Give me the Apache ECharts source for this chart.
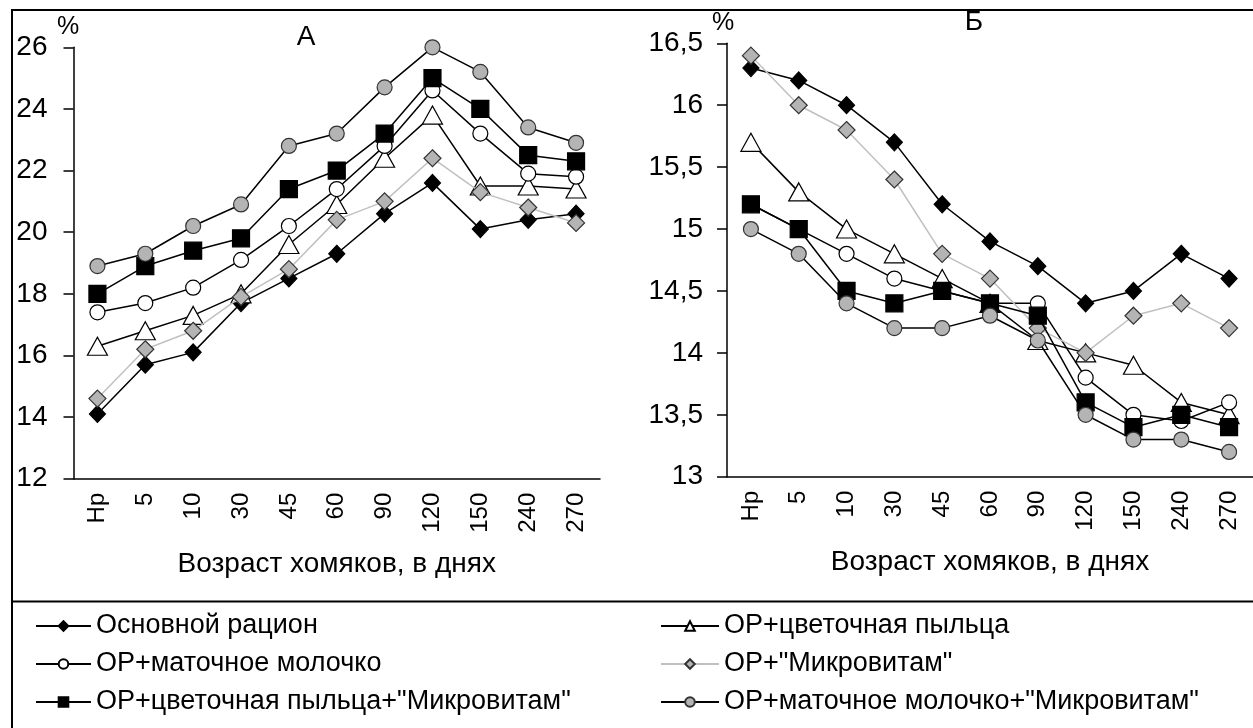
<!DOCTYPE html>
<html>
<head>
<meta charset="utf-8">
<script src="https://cdn.jsdelivr.net/npm/echarts@6/dist/echarts.min.js"></script>
<style>html,body{margin:0;padding:0;background:#fff;}#c{width:1253px;height:728px;}</style>
</head>
<body>
<div id="c"></div>
<script>
// ---- data ----
var categories = ['Нр','5','10','30','45','60','90','120','150','240','270'];
var seriesNames = ['Основной рацион','ОР+цветочная пыльца','ОР+маточное молочко','ОР+"Микровитам"','ОР+цветочная пыльца+"Микровитам"','ОР+маточное молочко+"Микровитам"'];

// Chart А
var aBase    = [14.1,15.7,16.1,17.7,18.5,19.3,20.6,21.6,20.1,20.4,20.6];
var aPollen  = [16.3,16.8,17.3,18.0,19.6,20.9,22.4,23.8,21.5,21.5,21.4];
var aJelly   = [17.4,17.7,18.2,19.1,20.2,21.4,22.8,24.6,23.2,21.9,21.8];
var aMikro   = [14.6,16.2,16.8,17.9,18.8,20.4,21.0,22.4,21.3,20.8,20.3];
var aPollenM = [18.0,18.9,19.4,19.8,21.4,22.0,23.2,25.0,24.0,22.5,22.3];
var aJellyM  = [18.9,19.3,20.2,20.9,22.8,23.2,24.7,26.0,25.2,23.4,22.9];

// Chart Б
var bBase    = [16.3,16.2,16.0,15.7,15.2,14.9,14.7,14.4,14.5,14.8,14.6];
var bPollen  = [15.7,15.3,15.0,14.8,14.6,14.4,14.1,14.0,13.9,13.6,13.5];
var bJelly   = [15.2,15.0,14.8,14.6,14.5,14.4,14.4,13.8,13.5,13.45,13.6];
var bMikro   = [16.4,16.0,15.8,15.4,14.8,14.6,14.2,14.0,14.3,14.4,14.2];
var bPollenM = [15.2,15.0,14.5,14.4,14.5,14.4,14.3,13.6,13.4,13.5,13.4];
var bJellyM  = [15.0,14.8,14.4,14.2,14.2,14.3,14.1,13.5,13.3,13.3,13.2];

var aTicks = {min:12, max:26, interval:2};
var bTicks = {min:13, max:16.5, interval:0.5};

// ---- styles ----
var FONT = '"Liberation Sans", Arial, sans-serif';
var styles = [
  {symbol:'diamond', size:[16,17], fill:'#000', border:'#000', line:'#000'},
  {symbol:'triangle', size:[20,18], fill:'#fff', border:'#000', line:'#000'},
  {symbol:'circle', size:15, fill:'#fff', border:'#000', line:'#000'},
  {symbol:'diamond', size:[17,17], fill:'#b4b4b4', border:'#333', line:'#c0c0c0'},
  {symbol:'rect', size:[17,17], fill:'#000', border:'#000', line:'#000'},
  {symbol:'circle', size:15, fill:'#b4b4b4', border:'#333', line:'#000'}
];

function mkSeries(arrs, idx) {
  return arrs.map(function (d, i) {
    var s = styles[i];
    return {
      name: seriesNames[i], type: 'line', xAxisIndex: idx, yAxisIndex: idx,
      data: d, symbol: s.symbol, symbolSize: s.size, showAllSymbol: true,
      lineStyle: {color: s.line, width: 1.5},
      itemStyle: {color: s.fill, borderColor: s.border, borderWidth: 1.2},
      emphasis: {disabled: true}, animation: false, z: 2 + i
    };
  });
}

function xAxis(idx) {
  return {
    type: 'category', gridIndex: idx, data: categories, boundaryGap: true,
    axisLine: {lineStyle: {color: '#000', width: 1.5}},
    axisTick: {length: 10, lineStyle: {color: '#000', width: 1.5}},
    axisLabel: {rotate: 90, margin: 14, fontSize: 24, color: '#000', fontFamily: FONT},
    name: 'Возраст хомяков, в днях', nameLocation: 'middle', nameGap: 72,
    nameTextStyle: {fontSize: 28, color: '#000', fontFamily: FONT},
    splitLine: {show: false}
  };
}
function yAxis(idx, t, margin) {
  return {
    type: 'value', gridIndex: idx, min: t.min, max: t.max, interval: t.interval,
    axisLine: {show: true, lineStyle: {color: '#000', width: 1.5}},
    axisTick: {show: true, length: 10, lineStyle: {color: '#000', width: 1.5}},
    axisLabel: {margin: margin, fontSize: 28, color: '#000', fontFamily: FONT,
      formatter: function (v) { return String(v).replace('.', ','); }},
    splitLine: {show: false}
  };
}

var chart = echarts.init(document.getElementById('c'), null, {renderer: 'canvas'});
var legendText = {fontSize: 27, color: '#000', fontFamily: FONT, lineHeight: 30};
chart.setOption({
  animation: false,
  backgroundColor: '#fff',
  grid: [
    {left: 73.5, right: 653, top: 47.3, bottom: 249.3},
    {left: 727, right: -5, top: 43.3, bottom: 251.3}
  ],
  xAxis: [xAxis(0), xAxis(1)],
  yAxis: [yAxis(0, aTicks, 26), yAxis(1, bTicks, 24)],
  legend: [
    {data: [seriesNames[0], seriesNames[2], seriesNames[4]], orient: 'vertical', left: 30, top: 606,
     itemWidth: 55, itemHeight: 12, itemGap: 8, textStyle: legendText, selectedMode: false},
    {data: [seriesNames[1], seriesNames[3], seriesNames[5]], orient: 'vertical', left: 655, top: 606,
     itemWidth: 58, itemHeight: 12, itemGap: 8, textStyle: legendText, selectedMode: false}
  ],
  graphic: [
    {type: 'rect', shape: {x: 12, y: 10, width: 1300, height: 800}, style: {fill: 'none', stroke: '#000', lineWidth: 2}, silent: true},
    {type: 'line', shape: {x1: 12, y1: 601.5, x2: 1260, y2: 601.5}, style: {stroke: '#000', lineWidth: 2}, silent: true},
    {type: 'text', x: 306, y: 37, style: {text: 'А', font: '28px ' + FONT, fill: '#000', textAlign: 'center', textVerticalAlign: 'middle'}},
    {type: 'text', x: 974, y: 22, style: {text: 'Б', font: '28px ' + FONT, fill: '#000', textAlign: 'center', textVerticalAlign: 'middle'}},
    {type: 'text', x: 68, y: 27, style: {text: '%', font: '25px ' + FONT, fill: '#000', textAlign: 'center', textVerticalAlign: 'middle'}},
    {type: 'text', x: 723, y: 23, style: {text: '%', font: '25px ' + FONT, fill: '#000', textAlign: 'center', textVerticalAlign: 'middle'}}
  ],
  series: mkSeries([aBase, aPollen, aJelly, aMikro, aPollenM, aJellyM], 0)
    .concat(mkSeries([bBase, bPollen, bJelly, bMikro, bPollenM, bJellyM], 1))
});
</script>
</body>
</html>
